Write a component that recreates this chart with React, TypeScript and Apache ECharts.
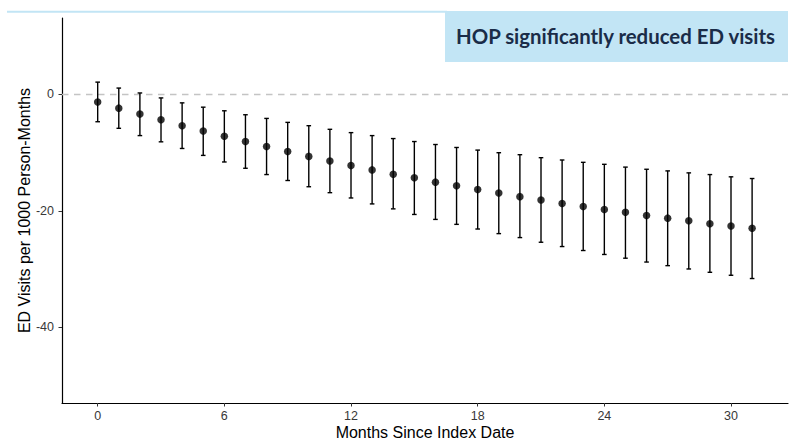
import React, { useEffect, useRef } from "react";
import * as echarts from "echarts";

const months = [0, 1, 2, 3, 4, 5, 6, 7, 8, 9, 10, 11, 12, 13, 14, 15, 16, 17, 18, 19, 20, 21, 22, 23, 24, 25, 26, 27, 28, 29, 30, 31];
const estimate = [-1.31, -2.38, -3.4, -4.37, -5.39, -6.29, -7.2, -8.1, -8.96, -9.81, -10.66, -11.45, -12.24, -12.98, -13.72, -14.34, -15.08, -15.7, -16.33, -16.95, -17.57, -18.14, -18.76, -19.27, -19.78, -20.27, -20.8, -21.26, -21.71, -22.22, -22.62, -23.01];
const upper = [2.09, 1.07, 0.23, -0.62, -1.47, -2.21, -2.83, -3.51, -4.14, -4.82, -5.39, -6.01, -6.58, -7.09, -7.6, -8.11, -8.62, -9.13, -9.58, -10.03, -10.37, -10.88, -11.28, -11.68, -12.02, -12.5, -12.87, -13.15, -13.49, -13.78, -14.17, -14.46];
const lower = [-4.71, -5.84, -7.09, -8.16, -9.3, -10.49, -11.62, -12.7, -13.78, -14.8, -15.87, -16.89, -17.8, -18.82, -19.67, -20.63, -21.48, -22.33, -23.13, -23.92, -24.6, -25.4, -26.14, -26.82, -27.5, -28.14, -28.8, -29.42, -29.99, -30.56, -31.07, -31.63];
const xTicks = [0, 6, 12, 18, 24, 30];
const yTicks = [-40, -20, 0];
const titleText = "HOP significantly reduced ED visits";
const xTitle = "Months Since Index Date";
const yTitle = "ED Visits per 1000 Person-Months";

export default function App() {
  const ref = useRef<HTMLDivElement>(null);
  useEffect(() => {
    if (!ref.current) return;
    const chart = echarts.init(ref.current, null, { renderer: "svg" });
    const barData = months.map((m, i) => [m, lower[i], upper[i]]);
    const pointData = months.map((m, i) => [m, estimate[i]]);
    const font = "Liberation Sans";
    chart.setOption({
      animation: false,
      backgroundColor: "#ffffff",
      grid: { left: 62, right: 7, top: 18, bottom: 38.5, containLabel: false },
      xAxis: {
        type: "value",
        min: -1.69,
        max: 32.7,
        name: xTitle,
        nameLocation: "middle",
        nameGap: 21,
        nameMoveOverlap: false,
        nameTextStyle: { fontSize: 16, color: "#000", fontFamily: font },
        axisLine: { show: true, onZero: false, lineStyle: { color: "#000", width: 1.2 } },
        axisTick: { show: true, length: 3.5, customValues: xTicks, lineStyle: { color: "#333", width: 1 } },
        axisLabel: { customValues: xTicks, fontSize: 12.5, color: "#383838", margin: 6, fontFamily: font },
        splitLine: { show: false },
      },
      yAxis: {
        type: "value",
        min: -53,
        max: 13.1,
        name: yTitle,
        nameLocation: "middle",
        nameGap: 30,
        nameMoveOverlap: false,
        nameTextStyle: { fontSize: 16, color: "#000", fontFamily: font },
        axisLine: { show: true, onZero: false, lineStyle: { color: "#000", width: 1.2 } },
        axisTick: { show: true, length: 3.5, customValues: yTicks, lineStyle: { color: "#333", width: 1 } },
        axisLabel: { customValues: yTicks, fontSize: 12.5, color: "#383838", margin: 8, fontFamily: font },
        splitLine: { show: false },
      },
      graphic: [
        { type: "rect", shape: { x: 7, y: 10.8, width: 440, height: 2 }, style: { fill: "#c2e5f5" } },
        { type: "rect", shape: { x: 445, y: 11, width: 343, height: 51 }, style: { fill: "#c2e5f5" } },
        {
          type: "text",
          x: 615.5,
          y: 36,
          style: {
            text: titleText,
            align: "center",
            verticalAlign: "middle",
            fontSize: 20.4,
            fontWeight: "bold",
            fontFamily: "Lato, Inter, sans-serif",
            fill: "#1a2c48",
          },
        },
      ],
      series: [
        {
          type: "custom",
          data: barData,
          encode: { x: 0, y: [1, 2] },
          renderItem: (params: any, api: any) => {
            const x = api.value(0);
            const pLo = api.coord([x, api.value(1)]);
            const pHi = api.coord([x, api.value(2)]);
            const half = 2.3;
            const style = { stroke: "#000", lineWidth: 1.4 };
            return {
              type: "group",
              children: [
                { type: "line", shape: { x1: pHi[0], y1: pHi[1], x2: pLo[0], y2: pLo[1] }, style },
                { type: "line", shape: { x1: pHi[0] - half, y1: pHi[1], x2: pHi[0] + half, y2: pHi[1] }, style },
                { type: "line", shape: { x1: pLo[0] - half, y1: pLo[1], x2: pLo[0] + half, y2: pLo[1] }, style },
              ],
            };
          },
          z: 2,
        },
        {
          type: "scatter",
          data: pointData,
          symbol: "circle",
          symbolSize: 7.5,
          itemStyle: { color: "#000" },
          z: 3,
          markLine: {
            silent: true,
            symbol: "none",
            label: { show: false },
            lineStyle: { color: "#c4c4c4", width: 1.3, type: [6.5, 5.5] },
            data: [{ yAxis: 0 }],
            z: 1,
          },
        },
      ],
    });
    return () => chart.dispose();
  }, []);
  return <div ref={ref} style={{ position: "absolute", left: 0, top: 0, width: 795, height: 445 }} />;
}
